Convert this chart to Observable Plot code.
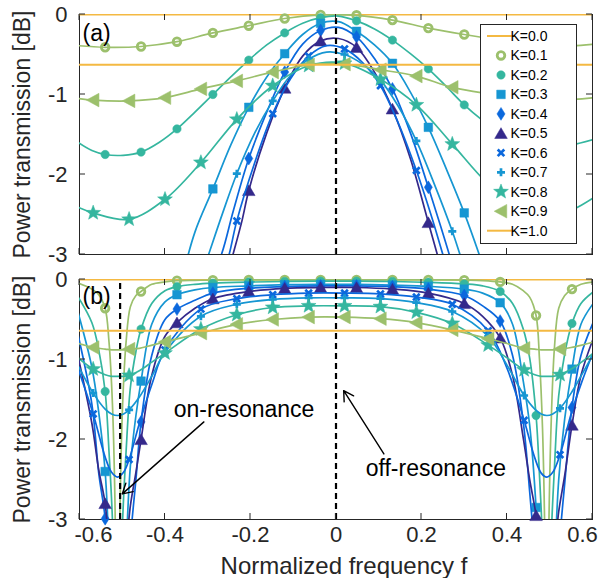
<!DOCTYPE html>
<html>
<head>
<meta charset="utf-8">
<script src="https://cdn.jsdelivr.net/npm/d3@7"></script>
<script src="https://cdn.jsdelivr.net/npm/@observablehq/plot@0.6"></script>
<style>
  html, body { margin: 0; padding: 0; background: #fff; }
  #chart svg { display: block; }
</style>
</head>
<body>
<div id="chart"></div>
<script>
// Coupling coefficients, one curve each
const couplingK = [0.0, 0.1, 0.2, 0.3, 0.4, 0.5, 0.6, 0.7, 0.8, 0.9, 1.0];
const legendLabels = couplingK.map(k => "K=" + k.toFixed(1));

const xTicks = [-0.6, -0.4, -0.2, 0, 0.2, 0.4, 0.6];
const xTicksMid = [-0.4, -0.2, 0, 0.2, 0.4];
const yTicks = [0, -1, -2, -3];

const yLabel = "Power transmission [dB]";
const xLabel = "Normalized frequency f";

// Frequencies at which the marker symbols sit
const markA = [-0.540, -0.456, -0.372, -0.288, -0.204, -0.120, -0.036, 0.048, 0.132, 0.216, 0.300, 0.384, 0.468, 0.552];
const markB = [-0.568, -0.484, -0.400, -0.316, -0.232, -0.148, -0.064, 0.020, 0.104, 0.188, 0.272, 0.356, 0.440, 0.524];

// ---- Panel (a): [frequency, transmission dB] ----
const a00 = [[-0.6, 0], [0.6, 0]];
const a01 = [[-0.603,-0.39],[-0.540,-0.41],[-0.456,-0.40],[-0.372,-0.34],[-0.288,-0.23],[-0.204,-0.14],[-0.120,-0.05],[-0.036,-0.005],[0.048,-0.01],[0.132,-0.07],[0.216,-0.17],[0.300,-0.25],[0.384,-0.32],[0.468,-0.38],[0.552,-0.39],[0.603,-0.37]];
const a02 = [[-0.603,-1.60],[-0.571,-1.70],[-0.540,-1.75],[-0.498,-1.76],[-0.456,-1.72],[-0.414,-1.60],[-0.372,-1.43],[-0.330,-1.22],[-0.288,-1.00],[-0.246,-0.78],[-0.204,-0.57],[-0.162,-0.38],[-0.120,-0.23],[-0.078,-0.11],[-0.036,-0.04],[0.006,-0.02],[0.048,-0.08],[0.090,-0.18],[0.132,-0.32],[0.174,-0.49],[0.216,-0.68],[0.258,-0.90],[0.300,-1.13],[0.342,-1.32],[0.384,-1.48],[0.426,-1.60],[0.468,-1.66],[0.510,-1.67],[0.552,-1.63],[0.603,-1.56]];
const a03 = [[-0.360,-3.3],[-0.330,-2.72],[-0.288,-2.18],[-0.246,-1.63],[-0.204,-1.16],[-0.162,-0.78],[-0.120,-0.49],[-0.078,-0.25],[-0.036,-0.11],[0.006,-0.09],[0.048,-0.21],[0.090,-0.38],[0.132,-0.61],[0.174,-0.97],[0.216,-1.41],[0.258,-1.93],[0.300,-2.48],[0.335,-3.0],[0.360,-3.4]];
const a04 = [[-0.300,-3.4],[-0.268,-3.0],[-0.240,-2.45],[-0.204,-1.80],[-0.162,-1.22],[-0.120,-0.72],[-0.078,-0.37],[-0.036,-0.20],[0.006,-0.16],[0.048,-0.28],[0.090,-0.55],[0.132,-0.93],[0.174,-1.48],[0.216,-2.16],[0.245,-2.65],[0.265,-3.0],[0.290,-3.45]];
const a05 = [[-0.265,-3.45],[-0.241,-3.0],[-0.220,-2.58],[-0.204,-2.20],[-0.162,-1.48],[-0.120,-0.92],[-0.078,-0.52],[-0.036,-0.33],[0.006,-0.30],[0.048,-0.41],[0.090,-0.72],[0.132,-1.18],[0.174,-1.80],[0.216,-2.60],[0.237,-3.0],[0.260,-3.45]];
const a06 = [[-0.272,-3.4],[-0.250,-3.0],[-0.232,-2.58],[-0.190,-1.85],[-0.148,-1.24],[-0.106,-0.80],[-0.064,-0.52],[-0.022,-0.39],[0.020,-0.43],[0.062,-0.60],[0.104,-0.89],[0.146,-1.36],[0.188,-1.95],[0.222,-2.50],[0.250,-3.0],[0.272,-3.4]];
const a07 = [[-0.320,-3.35],[-0.298,-3.0],[-0.265,-2.48],[-0.232,-1.99],[-0.190,-1.48],[-0.148,-1.08],[-0.106,-0.76],[-0.064,-0.56],[-0.022,-0.47],[0.020,-0.50],[0.062,-0.62],[0.104,-0.82],[0.146,-1.15],[0.188,-1.58],[0.230,-2.12],[0.272,-2.71],[0.290,-3.0],[0.312,-3.35]];
const a08 = [[-0.603,-2.41],[-0.568,-2.48],[-0.484,-2.56],[-0.400,-2.31],[-0.316,-1.85],[-0.232,-1.31],[-0.148,-0.89],[-0.064,-0.64],[0.020,-0.61],[0.104,-0.81],[0.188,-1.13],[0.272,-1.62],[0.356,-2.12],[0.440,-2.46],[0.524,-2.50],[0.603,-2.29]];
const a09 = [[-0.603,-1.05],[-0.568,-1.07],[-0.484,-1.08],[-0.400,-1.04],[-0.316,-0.93],[-0.232,-0.83],[-0.148,-0.72],[-0.064,-0.63],[0.020,-0.62],[0.104,-0.69],[0.188,-0.77],[0.272,-0.91],[0.356,-0.99],[0.440,-1.05],[0.524,-1.07],[0.603,-1.04]];
const a10 = [[-0.6, -0.627], [0.6, -0.627]];

// ---- Panel (b): frequency grids and transmission dB on them ----
const fDipA = [-0.603,-0.571,-0.555,-0.540,-0.531,-0.523,-0.517,-0.511,-0.505,-0.499,-0.491,-0.481,-0.468,-0.456,-0.431,-0.400,-0.372,-0.330,-0.288,-0.204,-0.120,-0.036,0.048,0.132,0.216,0.300,0.343,0.384,0.413,0.438,0.453,0.468,0.476,0.483,0.489,0.493,0.497,0.503,0.511,0.521,0.535,0.552,0.573,0.603];
const fDipB = [-0.603,-0.568,-0.540,-0.525,-0.511,-0.497,-0.484,-0.460,-0.430,-0.400,-0.316,-0.232,-0.148,-0.064,0.020,0.104,0.188,0.272,0.356,0.400,0.440,0.465,0.480,0.493,0.507,0.524,0.550,0.575,0.603];

const b00 = [[-0.6, 0], [0.6, 0]];
const b01 = [-0.045,-0.12,-0.19,-0.36,-0.78,-1.55,-2.8,-6,-2.8,-1.55,-0.78,-0.34,-0.20,-0.15,-0.06,-0.03,-0.015,-0.01,-0.008,-0.005,-0.005,-0.005,-0.005,-0.005,-0.005,-0.008,-0.013,-0.03,-0.06,-0.14,-0.22,-0.45,-1.0,-1.85,-3.4,-6,-3.4,-1.85,-0.85,-0.36,-0.2,-0.12,-0.06,-0.03];
const b02 = [-0.22,-0.54,-0.88,-1.40,-2.15,-3.0,-4.5,-8,-4.5,-3.0,-2.15,-1.35,-0.90,-0.62,-0.30,-0.14,-0.09,-0.06,-0.045,-0.032,-0.025,-0.02,-0.02,-0.025,-0.035,-0.055,-0.08,-0.15,-0.30,-0.62,-0.98,-1.70,-2.45,-3.3,-5.5,-8,-5.5,-3.3,-2.35,-1.45,-0.93,-0.55,-0.30,-0.15];
const b03 = [-0.42,-1.10,-1.66,-2.40,-3.4,-4.6,-6.0,-7.5,-6.0,-4.6,-3.4,-2.33,-1.70,-1.27,-0.56,-0.28,-0.19,-0.13,-0.10,-0.08,-0.065,-0.06,-0.06,-0.07,-0.085,-0.12,-0.17,-0.29,-0.56,-1.27,-1.82,-2.85,-3.8,-5.0,-6.5,-7.5,-6.5,-5.0,-3.65,-2.5,-1.74,-1.12,-0.56,-0.29];
const b04 = [-0.70,-1.56,-2.42,-2.99,-4.1,-4.85,-5.3,-5.5,-5.3,-4.85,-4.1,-3.25,-2.5,-1.78,-0.95,-0.50,-0.37,-0.26,-0.17,-0.11,-0.09,-0.08,-0.08,-0.09,-0.12,-0.20,-0.33,-0.52,-0.95,-1.78,-2.65,-3.65,-4.4,-5.0,-5.4,-5.5,-5.4,-5.0,-4.3,-3.4,-2.55,-1.60,-0.95,-0.52];
const b05 = [-0.97,-1.80,-2.38,-2.80,-3.33,-3.55,-3.66,-3.7,-3.66,-3.55,-3.33,-2.83,-2.41,-2.00,-1.20,-0.71,-0.54,-0.36,-0.24,-0.15,-0.11,-0.10,-0.10,-0.12,-0.17,-0.30,-0.46,-0.73,-1.20,-1.98,-2.5,-2.95,-3.42,-3.6,-3.68,-3.7,-3.68,-3.6,-3.4,-2.9,-2.45,-1.82,-1.2,-0.72];
const b06 = [-1.12,-1.68,-2.22,-2.41,-2.47,-2.41,-2.25,-1.80,-1.30,-0.88,-0.37,-0.24,-0.19,-0.17,-0.17,-0.18,-0.22,-0.31,-0.64,-1.11,-1.76,-2.23,-2.42,-2.47,-2.41,-2.19,-1.68,-1.28,-0.89];
const b07 = [-1.08,-1.42,-1.62,-1.68,-1.70,-1.68,-1.63,-1.47,-1.20,-0.91,-0.46,-0.31,-0.25,-0.23,-0.23,-0.24,-0.29,-0.40,-0.71,-1.07,-1.45,-1.62,-1.68,-1.70,-1.68,-1.61,-1.42,-1.19,-0.92];
const b08 = [-0.98,-1.12,-1.19,-1.21,-1.21,-1.21,-1.20,-1.14,-1.03,-0.92,-0.62,-0.44,-0.35,-0.33,-0.33,-0.34,-0.41,-0.55,-0.82,-0.98,-1.13,-1.19,-1.21,-1.21,-1.21,-1.19,-1.12,-1.03,-0.92];
const b09 = [-0.80,-0.85,-0.87,-0.88,-0.88,-0.88,-0.87,-0.86,-0.82,-0.78,-0.67,-0.56,-0.50,-0.47,-0.47,-0.49,-0.54,-0.63,-0.74,-0.80,-0.86,-0.87,-0.88,-0.88,-0.88,-0.87,-0.85,-0.82,-0.78];
const b10 = [[-0.6, -0.64], [0.6, -0.64]];

// Reference lines and annotations
const dashA = [0];
const dashB = [-0.505, 0];
const notesB = [
  {text: "on-resonance", f: -0.215, v: -1.63},
  {text: "off-resonance", f: 0.2335, v: -2.36}
];
const arrowsB = [
  {f1: -0.309, v1: -1.78, f2: -0.500, v2: -2.68},
  {f1: 0.112, v1: -2.18, f2: 0.018, v2: -1.39}
];

// ---- styling ----
const AXIS = "#262626";
const FONT = "'Liberation Sans', Arial, Helvetica, sans-serif";
const C0 = "#F4B942", C19 = "#9CC06C", C28 = "#35B69F", C37 = "#1696D2", C46 = "#0B68DD", C5 = "#34298B";
const colors = [C0, C19, C28, C37, C46, C5, C46, C37, C28, C19, C0];

// Custom marker shapes; r recovered from the symbol area
const sym = fn => ({draw(c, size) { fn(c, Math.sqrt(size / Math.PI)); }});
const ring = sym((c, r) => { c.moveTo(r, 0); c.arc(0, 0, r, 0, 2 * Math.PI); });
const square = sym((c, r) => { c.rect(-r, -r, 2 * r, 2 * r); });
const diamond = sym((c, r) => { c.moveTo(0, -1.15 * r); c.lineTo(0.72 * r, 0); c.lineTo(0, 1.15 * r); c.lineTo(-0.72 * r, 0); c.closePath(); });
const triUp = sym((c, r) => { c.moveTo(0, -0.95 * r); c.lineTo(1.05 * r, 0.85 * r); c.lineTo(-1.05 * r, 0.85 * r); c.closePath(); });
const triLeft = sym((c, r) => { c.moveTo(-r, 0); c.lineTo(0.85 * r, -r); c.lineTo(0.85 * r, r); c.closePath(); });
const times = sym((c, r) => { c.moveTo(-r, -r); c.lineTo(r, r); c.moveTo(r, -r); c.lineTo(-r, r); });
const plus = sym((c, r) => { c.moveTo(-r, 0); c.lineTo(r, 0); c.moveTo(0, -r); c.lineTo(0, r); });
const star = sym((c, r) => {
  for (let i = 0; i < 10; i++) {
    const a = -Math.PI / 2 + i * Math.PI / 5, rr = i % 2 ? 0.42 * r : r;
    const x = rr * Math.cos(a), y = rr * Math.sin(a);
    i ? c.lineTo(x, y) : c.moveTo(x, y);
  }
  c.closePath();
});

const markerStyle = [
  null,
  {symbol: ring, r: 3.8, fill: "none", stroke: C19, strokeWidth: 2.8},
  {symbol: ring, r: 4.2, fill: C28, stroke: C28, strokeWidth: 0.5},
  {symbol: square, r: 4.3, fill: C37, stroke: C37, strokeWidth: 0.5},
  {symbol: diamond, r: 5.6, fill: C46, stroke: C46, strokeWidth: 0.5},
  {symbol: triUp, r: 6.0, fill: C5, stroke: C5, strokeWidth: 0.5},
  {symbol: times, r: 3.3, fill: "none", stroke: C46, strokeWidth: 2.7},
  {symbol: plus, r: 4.0, fill: "none", stroke: C37, strokeWidth: 2.7},
  {symbol: star, r: 7.8, fill: C28, stroke: C28, strokeWidth: 0.5},
  {symbol: triLeft, r: 6.8, fill: C19, stroke: C19, strokeWidth: 0.5},
  null
];
const markerGroup = [null, markA, markA, markA, markA, markA, markB, markB, markB, markB, null];

const zip = (fs, vs) => fs.map((f, i) => [f, vs[i]]);
const curvesA = [a00, a01, a02, a03, a04, a05, a06, a07, a08, a09, a10];
const curvesB = [b00, zip(fDipA, b01), zip(fDipA, b02), zip(fDipA, b03), zip(fDipA, b04), zip(fDipA, b05),
                 zip(fDipB, b06), zip(fDipB, b07), zip(fDipB, b08), zip(fDipB, b09), b10];

function curveMarks(curves) {
  const marks = [];
  curves.forEach((pts, i) => {
    const rows = pts.map(([f, v]) => ({f, v}));
    marks.push(Plot.line(rows, {x: "f", y: "v", stroke: colors[i], strokeWidth: i === 0 || i === 10 ? 2 : 1.7, curve: "catmull-rom", clip: true}));
    const grp = markerGroup[i];
    if (grp) {
      const pick = rows.filter(d => d.v >= -3.01 && grp.some(m => Math.abs(m - d.f) < 1e-6));
      marks.push(Plot.dot(pick, {x: "f", y: "v", ...markerStyle[i]}));
    }
  });
  return marks;
}

function common(extra) {
  return {
    width: 599,
    marginLeft: 79,
    marginRight: 7,
    x: {domain: [-0.6, 0.6], axis: null},
    y: {domain: [-3, 0], axis: null},
    style: {fontFamily: FONT, fontSize: "22px", color: AXIS, background: "white"},
    ...extra
  };
}

// Inward tick marks on all four sides, placed with the plot's own scales
function boxTicks(svg) {
  const sx = svg.scale("x"), sy = svg.scale("y");
  const xl = sx.apply(-0.6), xr = sx.apply(0.6), yb = sy.apply(-3), yt = sy.apply(0);
  const g = d3.select(svg).append("g").attr("stroke", AXIS).attr("stroke-width", 1).attr("fill", "none");
  for (const t of xTicks) {
    const x = sx.apply(t);
    g.append("line").attr("x1", x).attr("x2", x).attr("y1", yb).attr("y2", yb - 6);
    g.append("line").attr("x1", x).attr("x2", x).attr("y1", yt).attr("y2", yt + 6);
  }
  for (const t of yTicks) {
    const y = sy.apply(t);
    g.append("line").attr("x1", xl).attr("x2", xl + 6).attr("y1", y).attr("y2", y);
    g.append("line").attr("x1", xr).attr("x2", xr - 6).attr("y1", y).attr("y2", y);
  }
}

function yAxisMarks() {
  return [
    Plot.axisY({ticks: yTicks, tickSize: 0, tickPadding: 12, tickFormat: d => String(d), label: null, fontSize: 22}),
    Plot.text([yLabel], {text: d => d, frameAnchor: "left", rotate: -90, dx: -57, textAnchor: "middle", lineAnchor: "middle", fontSize: 23, fill: AXIS})
  ];
}

// ---- panel (a) ----
const plotA = Plot.plot(common({
  height: 266, marginTop: 14, marginBottom: 12,
  marks: [
    Plot.frame({stroke: AXIS, strokeWidth: 1}),
    ...yAxisMarks(),
    ...curveMarks(curvesA),
    Plot.ruleX(dashA, {x: d => d, y1: -3, y2: 0, stroke: "black", strokeWidth: 2.2, strokeDasharray: "6,4"}),
    Plot.text(["(a)"], {text: d => d, frameAnchor: "top-left", dx: 3, dy: 19, textAnchor: "start", lineAnchor: "middle", fontSize: 23, fill: "black"})
  ]
}));
boxTicks(plotA);

// Legend box drawn over the top panel
(function legend(svg) {
  const g = d3.select(svg).append("g");
  g.append("rect").attr("x", 480.5).attr("y", 24.5).attr("width", 96).attr("height", 219)
    .attr("fill", "white").attr("stroke", AXIS).attr("stroke-width", 1);
  legendLabels.forEach((lab, i) => {
    const y = 36 + i * 19.47;
    const st = markerStyle[i];
    if (!st) {
      g.append("line").attr("x1", 487).attr("x2", 515).attr("y1", y).attr("y2", y)
        .attr("stroke", colors[i]).attr("stroke-width", 2);
    } else {
      g.append("path").attr("d", d3.symbol(st.symbol, Math.PI * st.r * st.r)())
        .attr("transform", `translate(501,${y})`)
        .attr("fill", st.fill).attr("stroke", st.stroke).attr("stroke-width", st.strokeWidth);
    }
    g.append("text").attr("x", 529).attr("y", y).attr("dy", "0.35em")
      .attr("font-family", FONT).attr("font-size", 14).attr("fill", "black").text(lab);
  });
})(plotA);

// ---- panel (b) ----
const plotB = Plot.plot(common({
  height: 312, marginTop: 13, marginBottom: 59,
  marks: [
    Plot.frame({stroke: AXIS, strokeWidth: 1}),
    ...yAxisMarks(),
    Plot.axisX(xTicksMid, {tickSize: 0, tickPadding: 7, tickFormat: d => String(d), label: null, fontSize: 22}),
    Plot.axisX([-0.6], {tickSize: 0, tickPadding: 7, tickFormat: d => String(d), label: null, dx: 14, fontSize: 22}),
    Plot.axisX([0.6], {tickSize: 0, tickPadding: 7, tickFormat: d => String(d), label: null, dx: -10, fontSize: 22}),
    Plot.text([xLabel], {text: d => d, frameAnchor: "bottom", dy: 47, dx: 8, textAnchor: "middle", lineAnchor: "middle", fontSize: 24, fill: AXIS}),
    ...curveMarks(curvesB),
    Plot.ruleX(dashB, {x: d => d, y1: -3, y2: -0.03, stroke: "black", strokeWidth: 2.2, strokeDasharray: "6,4"}),
    Plot.arrow(arrowsB, {x1: "f1", y1: "v1", x2: "f2", y2: "v2", stroke: "black", strokeWidth: 1.4, headLength: 12}),
    Plot.text(notesB, {x: "f", y: "v", text: "text", fontSize: 23, fill: "black"}),
    Plot.text(["(b)"], {text: d => d, frameAnchor: "top-left", dx: 3, dy: 17, textAnchor: "start", lineAnchor: "middle", fontSize: 23, fill: "black"})
  ]
}));
boxTicks(plotB);

document.getElementById("chart").append(plotA, plotB);
</script>
</body>
</html>
